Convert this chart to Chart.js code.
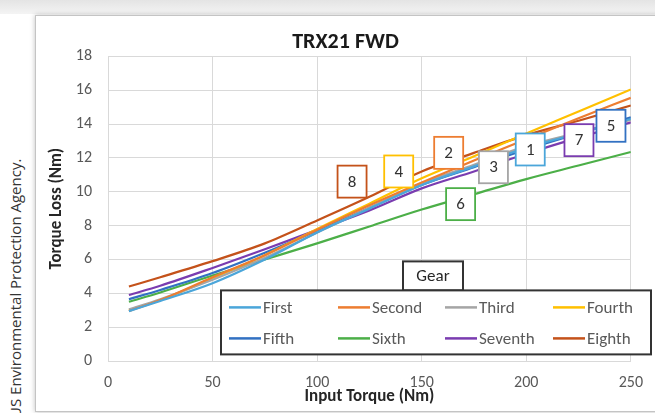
<!DOCTYPE html>
<html>
<head>
<meta charset="utf-8">
<script src="https://cdn.jsdelivr.net/npm/chart.js@4.4.0/dist/chart.umd.min.js"></script>
<style>
  html, body { margin: 0; padding: 0; background: #fff; overflow: hidden; }
  body { width: 655px; height: 413px; position: relative; }
  .topband { position: absolute; left: 0; top: 0; width: 655px; height: 14px;
    background: linear-gradient(#e4e4e4, #f4f4f4); }
  .credit { position: absolute; left: 5px; top: 418px; transform: rotate(-90deg);
    transform-origin: left top; white-space: nowrap; font: 15px "Open Sans", sans-serif; color: #333; }
  .frame { position: absolute; left: 35px; top: 15px; width: 625px; height: 395px;
    border: 1px solid #c4c4c4; background: #fff; box-shadow: 0 0 5px rgba(0,0,0,0.25); }
  .box { position: absolute; left: 0; top: 0; width: 619px; height: 395px; }
</style>
</head>
<body>
<div class="topband"></div>
<div class="credit">US Environmental Protection Agency.</div>
<div class="frame"><div class="box"><canvas id="chart"></canvas></div></div>
<script>
// input torque (Nm) sample points
const torque = [10, 25, 50, 75, 100, 125, 150, 175, 200, 225, 250];

// torque loss (Nm) per gear
const first   = [2.95, 3.55, 4.6, 6.0, 7.6, 9.0, 10.4, 11.5, 12.6, 13.45, 14.3];
const second  = [2.95, 3.6, 4.95, 6.25, 7.75, 9.2, 10.55, 11.85, 13.1, 14.35, 15.55];
const third   = [3.05, 3.65, 4.8, 6.1, 7.6, 9.05, 10.5, 11.6, 12.7, 13.5, 14.25];
const fourth  = [3.0, 3.6, 4.9, 6.25, 7.8, 9.3, 10.8, 12.1, 13.45, 14.75, 16.05];
const fifth   = [3.65, 4.2, 5.2, 6.4, 7.7, 9.05, 10.4, 11.45, 12.5, 13.45, 14.4];
const sixth   = [3.5, 4.05, 5.05, 6.0, 6.95, 7.95, 8.95, 9.85, 10.75, 11.55, 12.35];
const seventh = [3.9, 4.45, 5.5, 6.6, 7.75, 8.9, 10.2, 11.2, 12.25, 13.2, 14.1];
const eighth  = [4.4, 4.95, 5.9, 6.95, 8.3, 9.7, 11.2, 12.3, 13.35, 14.2, 15.1];

const gearNames = ['First', 'Second', 'Third', 'Fourth', 'Fifth', 'Sixth', 'Seventh', 'Eighth'];
const gearSeries = [first, second, third, fourth, fifth, sixth, seventh, eighth];

// numbered callouts, one per gear (data coordinates)
const calloutText = ['1', '2', '3', '4', '5', '6', '7', '8'];
const calloutX = [201.9, 162.9, 184.3, 139, 240.5, 168.6, 225.2, 116.7];
const calloutY = [12.5, 12.3, 11.45, 11.2, 13.9, 9.27, 13.05, 10.6];

const xTicks = [0, 50, 100, 150, 200, 250];
const yTicks = [0, 2, 4, 6, 8, 10, 12, 14, 16, 18];

const colors = ['#4ba6da', '#ed7d31', '#a5a5a5', '#ffc000', '#3271c2', '#4caf48', '#7a3cb0', '#c4521a'];
const FONT = 'Carlito, Lato, sans-serif';
Chart.defaults.font.family = FONT;

const calloutPlugin = {
  id: 'callouts',
  afterDatasetsDraw(chart) {
    const { ctx, scales: { x, y } } = chart;
    ctx.save();
    calloutText.forEach((t, i) => {
      const cx = x.getPixelForValue(calloutX[i]);
      const cy = y.getPixelForValue(calloutY[i]);
      const w = 29, h = 32;
      ctx.fillStyle = '#fff';
      ctx.fillRect(cx - w / 2, cy - h / 2, w, h);
      ctx.strokeStyle = colors[i];
      ctx.lineWidth = 1.8;
      ctx.strokeRect(cx - w / 2, cy - h / 2, w, h);
      ctx.fillStyle = '#333';
      ctx.font = '17px ' + FONT;
      ctx.textAlign = 'center';
      ctx.textBaseline = 'middle';
      ctx.fillText(t, cx, cy + 1);
    });
    ctx.restore();
  }
};

const legendPlugin = {
  id: 'gearLegend',
  afterDraw(chart) {
    const { ctx, chartArea } = chart;
    const L = chartArea.left, T = chartArea.top;
    ctx.save();
    // title tab
    ctx.fillStyle = '#fff';
    ctx.strokeStyle = '#333';
    ctx.lineWidth = 2;
    ctx.fillRect(L + 295, T + 205, 60, 29);
    ctx.strokeRect(L + 295, T + 205, 60, 29);
    // main box
    ctx.fillRect(L + 113, T + 234, 430, 64);
    ctx.strokeRect(L + 113, T + 234, 430, 64);
    ctx.fillStyle = '#262626';
    ctx.font = '17px ' + FONT;
    ctx.textAlign = 'center';
    ctx.textBaseline = 'middle';
    ctx.fillText('Gear', L + 325, T + 220);
    const colX = [121, 230, 337, 445];
    const rowY = [251, 282];
    ctx.textAlign = 'left';
    gearNames.forEach((name, i) => {
      const cx = L + colX[i % 4];
      const cy = T + rowY[Math.floor(i / 4)];
      ctx.strokeStyle = colors[i];
      ctx.lineWidth = 2.5;
      ctx.beginPath();
      ctx.moveTo(cx, cy);
      ctx.lineTo(cx + 32, cy);
      ctx.stroke();
      ctx.fillStyle = '#595959';
      ctx.fillText(name, cx + 34, cy + 1);
    });
    ctx.restore();
  }
};

new Chart(document.getElementById('chart'), {
  type: 'line',
  data: {
    datasets: gearNames.map((name, i) => ({
      label: name,
      data: torque.map((t, k) => ({ x: t, y: gearSeries[i][k] })),
      borderColor: colors[i],
      backgroundColor: colors[i],
      borderWidth: 2.2,
      pointRadius: 0,
      cubicInterpolationMode: 'monotone',
      fill: false
    }))
  },
  options: {
    responsive: true,
    maintainAspectRatio: false,
    animation: false,
    layout: { padding: 0 },
    plugins: {
      legend: { display: false },
      tooltip: { enabled: false },
      title: {
        display: true,
        text: 'TRX21 FWD',
        color: '#1a1a1a',
        font: { size: 22, weight: 'bold' },
        padding: { top: 13, bottom: 1 }
      }
    },
    scales: {
      x: {
        type: 'linear',
        min: 0, max: 250,
        afterFit(scale) { scale.height = 50; },
        afterBuildTicks(scale) { scale.ticks = xTicks.map(v => ({ value: v })); },
        grid: { color: '#d9d9d9', drawTicks: false },
        border: { color: '#d9d9d9' },
        ticks: { color: '#595959', font: { size: 16 }, padding: 12 },
        title: {
          display: true, text: 'Input Torque (Nm)', color: '#262626',
          font: { size: 17, weight: 'bold' }, padding: { top: 0, bottom: 4 }
        }
      },
      y: {
        min: 0, max: 18,
        afterFit(scale) { scale.width = 72; },
        afterBuildTicks(scale) { scale.ticks = yTicks.map(v => ({ value: v })); },
        grid: { color: '#d9d9d9', drawTicks: false },
        border: { color: '#d9d9d9' },
        ticks: { color: '#595959', font: { size: 16 }, padding: 16 },
        title: {
          display: true, text: 'Torque Loss (Nm)', color: '#262626',
          font: { size: 17, weight: 'bold' }, padding: { top: 11, bottom: 0 }
        }
      },
      // empty right-hand margin so the title stays centred on the whole frame
      spacer: {
        position: 'right',
        afterFit(scale) { scale.width = 23; },
        ticks: { display: false },
        grid: { display: false },
        border: { display: false }
      }
    }
  },
  plugins: [calloutPlugin, legendPlugin]
});
</script>
</body>
</html>
